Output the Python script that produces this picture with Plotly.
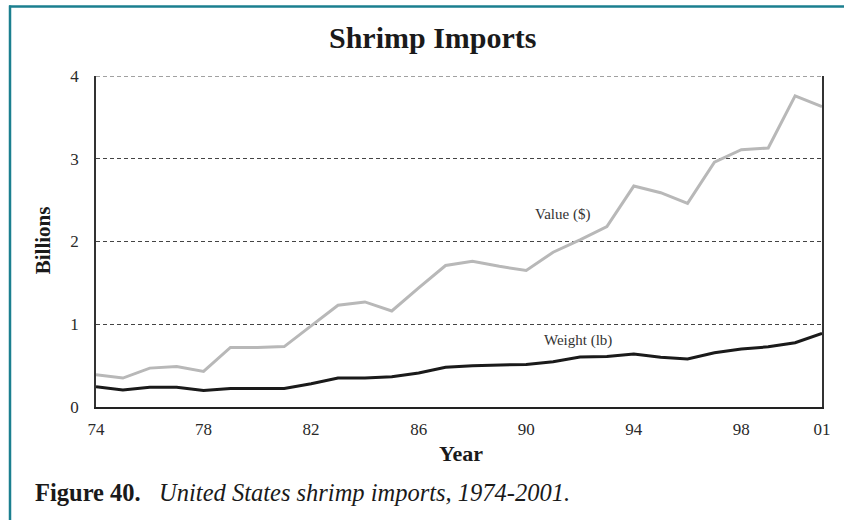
import plotly.graph_objects as go

# Shrimp imports into the United States, billions
years = list(range(1974, 2002))
value_usd = [0.39, 0.35, 0.47, 0.49, 0.43, 0.72, 0.72, 0.73, 0.98, 1.23,
             1.27, 1.16, 1.44, 1.71, 1.76, 1.70, 1.65, 1.87, 2.02, 2.18,
             2.67, 2.59, 2.46, 2.96, 3.11, 3.13, 3.76, 3.63]
weight_lb = [0.245, 0.205, 0.24, 0.24, 0.20, 0.225, 0.225, 0.225, 0.28, 0.35,
             0.35, 0.365, 0.41, 0.48, 0.50, 0.505, 0.515, 0.547, 0.603, 0.61,
             0.64, 0.60, 0.58, 0.655, 0.70, 0.727, 0.776, 0.89]
tick_years = [1974, 1978, 1982, 1986, 1990, 1994, 1998, 2001]
tick_labels = ["74", "78", "82", "86", "90", "94", "98", "01"]
y_ticks = [0, 1, 2, 3, 4]

W, H = 844, 520
L, R, T, B = 96, 22, 75.5, 113
PW, PH = W - L - R, H - T - B


def px(x):
    return (x - L) / PW


def py(y):
    return (H - B - y) / PH


SERIF = "Liberation Serif"
TEAL = "#1b7f8f"
GRID = dict(color="#444", width=1, dash="4px,3px")

fig = go.Figure()
fig.add_trace(go.Scatter(x=years, y=value_usd, mode="lines",
                         line=dict(color="#b8b8b8", width=3),
                         hoverinfo="skip", showlegend=False))
fig.add_trace(go.Scatter(x=years, y=weight_lb, mode="lines",
                         line=dict(color="#1a1a1a", width=3),
                         hoverinfo="skip", showlegend=False))

fig.update_layout(
    width=W, height=H,
    margin=dict(l=L, r=R, t=T, b=B),
    paper_bgcolor="white", plot_bgcolor="white",
    showlegend=False,
    xaxis=dict(range=[years[0], years[-1]], tickvals=tick_years,
               ticktext=tick_labels, showgrid=False, zeroline=False, ticks="",
               ticklabelstandoff=6,
               showline=True, linecolor="#222", linewidth=1.5,
               tickfont=dict(family=SERIF, size=17, color="#2a2a2a")),
    yaxis=dict(range=[y_ticks[0], y_ticks[-1]], tickvals=y_ticks,
               showgrid=True, gridcolor=GRID["color"], griddash=GRID["dash"],
               gridwidth=GRID["width"],
               zeroline=False, ticks="", ticklabelstandoff=12,
               showline=True, mirror=True, linecolor="#333", linewidth=1.8,
               tickfont=dict(family=SERIF, size=17, color="#2a2a2a")),
)

annotations = [
    dict(text="<b>Shrimp Imports</b>", x=px(433), y=py(37),
         font=dict(family=SERIF, size=30, color="#1a1a1a")),
    dict(text="<b>Billions</b>", x=px(43), y=py(240), textangle=-90,
         font=dict(family=SERIF, size=21, color="#1a1a1a")),
    dict(text="<b>Year</b>", x=px(461), y=py(454),
         font=dict(family=SERIF, size=22, color="#1a1a1a")),
    dict(text="Value ($)", x=px(562), y=py(214),
         font=dict(family=SERIF, size=15, color="#333")),
    dict(text="Weight (lb)", x=px(578), y=py(340),
         font=dict(family=SERIF, size=15, color="#333")),
    dict(text="<b>Figure 40.</b>   <i>United States shrimp imports, 1974-2001.</i>",
         x=px(33), y=py(493), xanchor="left",
         font=dict(family=SERIF, size=24.5, color="#1a1a1a")),
]
for a in annotations:
    a.setdefault("xanchor", "center")
    a.update(xref="paper", yref="paper", yanchor="middle", showarrow=False)
fig.update_layout(annotations=annotations)

shapes = [
    # dashed gridline along the top of the value range
    dict(type="line", xref="x", yref="y", x0=years[0], x1=years[-1],
         y0=y_ticks[-1], y1=y_ticks[-1], line=GRID),
    # teal frame along the top and left edges of the figure
    dict(type="line", xref="paper", yref="paper", x0=px(9), x1=px(W + 5),
         y0=py(6), y1=py(6), line=dict(color=TEAL, width=2.5)),
    dict(type="line", xref="paper", yref="paper", x0=px(10), x1=px(10),
         y0=py(5), y1=py(H + 5), line=dict(color=TEAL, width=2.5)),
]
fig.update_layout(shapes=shapes)

fig.write_html("out.html")
